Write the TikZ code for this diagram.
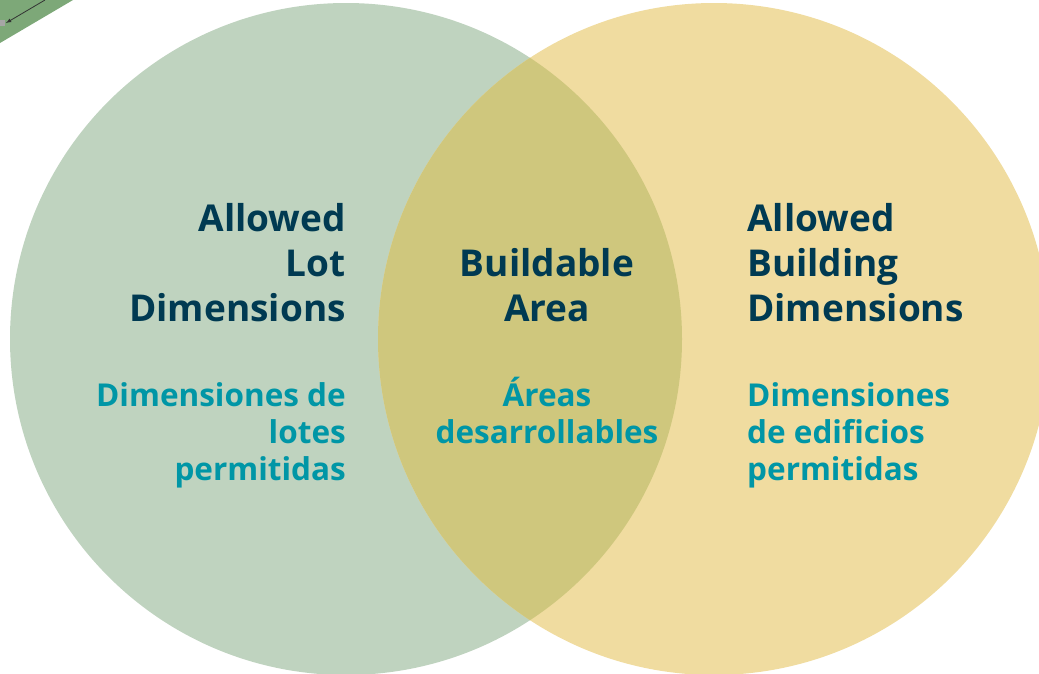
\documentclass[tikz,border=0pt]{standalone}
\usepackage{fontspec}
\setmainfont{Open Sans}
\usepackage{tikz}

\definecolor{lotgreen}{HTML}{BFD3BF}
\definecolor{bldgyellow}{HTML}{F0DCA0}
\definecolor{overlap}{HTML}{CFC77D}
\definecolor{bandgreen}{HTML}{7DA878}
\definecolor{navy}{HTML}{003A52}
\definecolor{teal}{HTML}{0096A6}

\begin{document}
\begin{tikzpicture}
    [x = 1pt, y = -1pt,
     title/.style = {font = \fontsize{37}{45}\selectfont\bfseries, text = navy, inner sep = 0pt},
     sub/.style = {font = \fontsize{31.5}{37}\selectfont\bfseries, text = teal, inner sep = 0pt}]
    \useasboundingbox (0,0) rectangle (1039,673);

    % corner of the neighbouring figure
    \fill[bandgreen] (0,0) -- (73,0) -- (0,43) -- cycle;
    \fill[gray!70] (0,20) rectangle (5,26);
    \coordinate (tail) at (45,0);
    \coordinate (tip) at (6,23);
    \draw[black!80, thick, -latex] (tail) -- (tip);

    % the two sets
    \fill[lotgreen] (346,339) circle (336pt);
    \fill[bldgyellow] (714,339) circle (336pt);
    \begin{scope}
      \clip (714,339) circle (336pt);
      \fill[overlap] (346,339) circle (336pt);
    \end{scope}

    \foreach \txt/\y [count = \i] in {Allowed/231, Lot/276, Dimensions/321}
      \node[title, anchor = base east] (lot\i) at (346,\y) {\txt};
    \foreach \txt/\y [count = \i] in {Dimensiones de/406, lotes/443, permitidas/480}
      \node[sub, anchor = base east] (lotes\i) at (346,\y) {\txt};

    \foreach \txt/\y [count = \i] in {Buildable/276, Area/321}
      \node[title, anchor = base] (area\i) at (547,\y) {\txt};
    \foreach \txt/\y [count = \i] in {Áreas/406, desarrollables/443}
      \node[sub, anchor = base] (areas\i) at (547,\y) {\txt};

    \foreach \txt/\y [count = \i] in {Allowed/231, Building/276, Dimensions/321}
      \node[title, anchor = base west] (bldg\i) at (747,\y) {\txt};
    \foreach \txt/\y [count = \i] in {Dimensiones/406, de edificios/443, permitidas/480}
      \node[sub, anchor = base west] (edif\i) at (747,\y) {\txt};
  \end{tikzpicture}
\end{document}
